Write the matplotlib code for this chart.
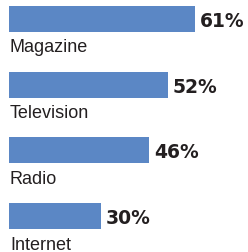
import matplotlib
matplotlib.use("Agg")
import matplotlib.pyplot as plt

categories = ["Magazine", "Television", "Radio", "Internet"]
values = [61, 52, 46, 30]
value_labels = ["61%", "52%", "46%", "30%"]

bar_color = "#5B87C5"
text_color = "#231F20"

W, H = 248, 253
fig = plt.figure(figsize=(W / 100, H / 100), dpi=100)
ax = fig.add_axes([0, 0, 1, 1])

px_per_unit_x = 3.05
x_left_px = 9
ax.set_xlim(-x_left_px / px_per_unit_x, (W - x_left_px) / px_per_unit_x)

step_px = 65.67
first_center_px = 20
ax.set_ylim((H - first_center_px) / step_px, -first_center_px / step_px)

pos = list(range(len(categories)))
ax.barh(pos, values, height=26 / step_px, color=bar_color, left=0)

for i, (cat, v, lab) in enumerate(zip(categories, values, value_labels)):
    ax.text(0.3, i + 32.5 / step_px, cat, ha="left", va="baseline",
            fontsize=13, color=text_color, family="Liberation Sans")
    ax.text(v + 5 / px_per_unit_x, i + 7 / step_px, lab, ha="left", va="baseline",
            fontsize=13.5, fontweight="bold", color=text_color, family="DejaVu Sans")

ax.axis("off")
fig.savefig("out.png", dpi=100)
